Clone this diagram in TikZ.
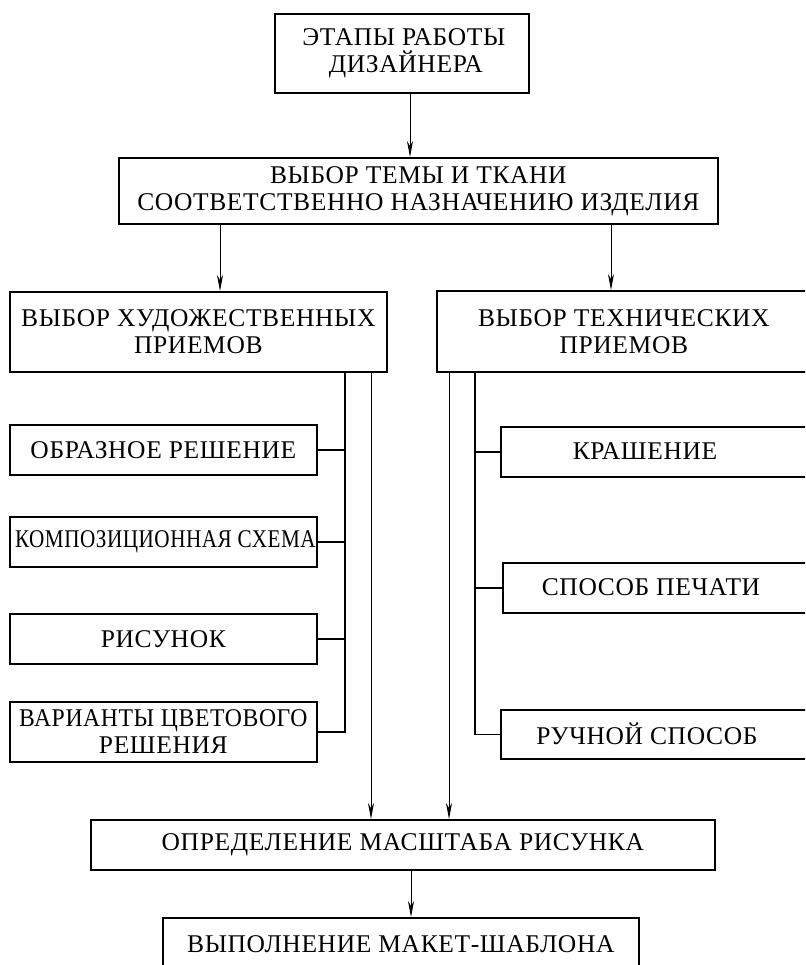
\documentclass[tikz,border=0pt]{standalone}
\usepackage{fontspec}
\usepackage{graphicx}
\setmainfont[LetterSpace=2.5]{Liberation Serif}
\usetikzlibrary{arrows.meta}
\begin{document}
\begin{tikzpicture}[x=1pt,y=-1pt,
  box/.style={draw, line width=1.7pt, rectangle, inner sep=0pt, anchor=north west, align=center,
    font=\fontsize{25.5}{27}\selectfont},
  lbl/.style={inner sep=0pt, font=\fontsize{25.5}{27}\selectfont},
  arr/.style={line width=0.9pt, -{Stealth[length=16pt, width=6pt, inset=5pt]}},
  thin/.style={line width=0.9pt},
  trunk/.style={line width=1.7pt}]
\useasboundingbox (0,0) rectangle (805,965);
\fill[white] (0,0) rectangle (805,965);
\clip (0,0) rectangle (805,965);

\node[box, minimum width=254pt, minimum height=79pt] (top) at (274,13) {\hspace*{4pt}ЭТАПЫ РАБОТЫ\\ \hspace*{8pt}ДИЗАЙНЕРА};
\node[box, minimum width=599pt, minimum height=66pt] (theme) at (118,157) {ВЫБОР ТЕМЫ И ТКАНИ\\ СООТВЕТСТВЕННО НАЗНАЧЕНИЮ ИЗДЕЛИЯ};
\node[box, minimum width=377pt, minimum height=80pt] (art) at (9,291) {ВЫБОР ХУДОЖЕСТВЕННЫХ\\ ПРИЕМОВ};
\node[box, minimum width=374pt, minimum height=81pt] (tech) at (436,290) {ВЫБОР ТЕХНИЧЕСКИХ\\ ПРИЕМОВ};

\node[box, minimum width=307pt, minimum height=50pt] (obr) at (9,424) {ОБРАЗНОЕ РЕШЕНИЕ};
\node[box, minimum width=307pt, minimum height=50pt] (komp) at (9,516) {\hspace*{4pt}\scalebox{0.83}[1]{КОМПОЗИЦИОННАЯ СХЕМА}};
\node[box, minimum width=307pt, minimum height=50pt] (ris) at (9,613) {РИСУНОК};
\node[box, minimum width=307pt, minimum height=60pt] (var) at (9,701) {\scalebox{0.93}[1]{ВАРИАНТЫ ЦВЕТОВОГО}\\ РЕШЕНИЯ};

\node[box, minimum width=330pt, minimum height=50pt] (kr) at (500,426) {};
\node[lbl] (krt) at (645,451) {КРАШЕНИЕ};
\node[box, minimum width=330pt, minimum height=50pt] (sp) at (502,562) {};
\node[lbl] (spt) at (651,587) {СПОСОБ ПЕЧАТИ};
\node[box, minimum width=330pt, minimum height=49pt] (ru) at (500,709) {};
\node[lbl] (rut) at (647,734) {РУЧНОЙ СПОСОБ};

\node[box, minimum width=624pt, minimum height=50pt] (opr) at (90,819) {ОПРЕДЕЛЕНИЕ МАСШТАБА РИСУНКА};
\node[box, minimum width=476pt, minimum height=52pt] (vyp) at (162,917) {ВЫПОЛНЕНИЕ МАКЕТ-ШАБЛОНА};

\coordinate (xa) at (410,0);
\coordinate (xl) at (220,0);
\coordinate (xr) at (611,0);
\coordinate (tl) at (345,0);
\coordinate (al) at (371,0);
\coordinate (ar) at (449,0);
\coordinate (tr) at (475,0);
\coordinate (xb) at (411,0);

\draw[arr] (top.south -| xa) -- (theme.north -| xa);
\draw[arr] (theme.south -| xl) -- (art.north -| xl);
\draw[arr] (theme.south -| xr) -- (tech.north -| xr);

\draw[trunk] (art.south -| tl) |- (var.east);
\draw[trunk] (obr.east) -- (obr.east -| tl);
\draw[trunk] (komp.east) -- (komp.east -| tl);
\draw[trunk] (ris.east) -- (ris.east -| tl);

\draw[trunk] (tech.south -| tr) |- (ru.west);
\draw[trunk] (kr.west) -- (kr.west -| tr);
\draw[trunk] (sp.west) -- (sp.west -| tr);

\draw[arr] (art.south -| al) -- (opr.north -| al);
\draw[arr] (tech.south -| ar) -- (opr.north -| ar);
\draw[arr] (opr.south -| xb) -- (vyp.north -| xb);
\end{tikzpicture}
\end{document}
